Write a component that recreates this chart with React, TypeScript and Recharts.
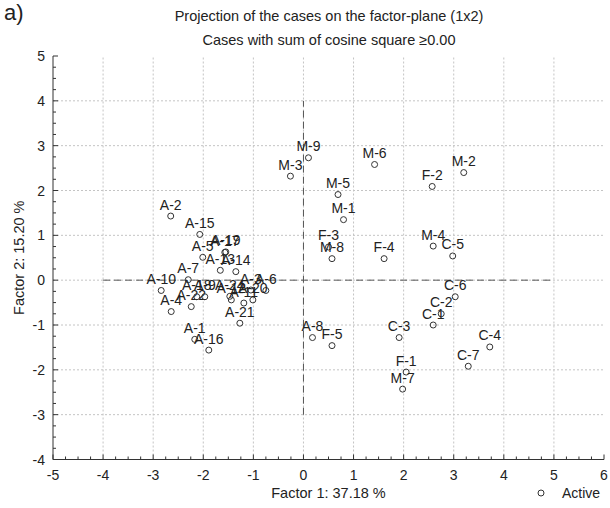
import { ScatterChart, Scatter, XAxis, YAxis, ReferenceLine } from "recharts";

// case labels and their coordinates on factor 1 / factor 2
const caseNames = [
  "M-9", "M-3", "M-6", "M-2", "F-2", "M-5", "M-1", "F-3", "M-8", "M-4", "C-5", "F-4",
  "C-6", "C-2", "C-1", "A-8", "F-5", "C-3", "F-1", "M-7", "C-4", "C-7",
  "A-2", "A-15", "A-5", "A-17", "A-19", "A-13", "A-14", "A-7", "A-10", "A-4", "A-22",
  "A-18", "A-9", "A-3", "A-6", "A-20", "A-24", "A-11", "A-12", "A-21", "A-1", "A-16",
];
const factor1 = [
  0.1, -0.26, 1.42, 3.2, 2.57, 0.69, 0.8, 0.5, 0.57, 2.59, 2.98, 1.61,
  3.03, 2.75, 2.59, 0.18, 0.57, 1.91, 2.05, 1.98, 3.72, 3.29,
  -2.65, -2.07, -2.01, -1.57, -1.55, -1.66, -1.35, -2.3, -2.84, -2.64, -2.24,
  -2.13, -1.97, -1.05, -0.75, -1.01, -1.47, -1.19, -1.44, -1.27, -2.17, -1.89,
];
const factor2 = [
  2.73, 2.32, 2.58, 2.4, 2.09, 1.91, 1.35, 0.74, 0.48, 0.76, 0.54, 0.48,
  -0.37, -0.75, -1.0, -1.28, -1.46, -1.28, -2.05, -2.43, -1.49, -1.92,
  1.43, 1.02, 0.51, 0.62, 0.63, 0.22, 0.19, 0.01, -0.23, -0.7, -0.59,
  -0.37, -0.37, -0.22, -0.23, -0.44, -0.36, -0.51, -0.44, -0.96, -1.32, -1.56,
];

const xTicks = [-5, -4, -3, -2, -1, 0, 1, 2, 3, 4, 5, 6];
const yTicks = [-4, -3, -2, -1, 0, 1, 2, 3, 4, 5];

const data = caseNames.map((name, i) => ({ name, x: factor1[i], y: factor2[i] }));

// quarter-step minor ticks on the frame
const quarters = (ticks: number[]) =>
  ticks.flatMap((t, i) => (i < ticks.length - 1 ? [t, t + 0.25, t + 0.5, t + 0.75] : [t]));
const xMinor = quarters(xTicks);
const yMinor = quarters(yTicks);

const isMajor = (v: number) => Math.abs(v - Math.round(v)) < 1e-6;
const FRAME = "#333";

function BottomTick({ x, y, payload }: any) {
  const v = payload.value;
  const len = isMajor(v) ? 5 : 3;
  return (
    <g>
      <line x1={x} y1={y} x2={x} y2={y - len} stroke={FRAME} />
      {isMajor(v) && (
        <text x={x} y={y + 20.5} textAnchor="middle" fontSize={14} fill="#222">
          {v}
        </text>
      )}
    </g>
  );
}

function TopTick({ x, y, payload }: any) {
  const len = isMajor(payload.value) ? 5 : 3;
  return <line x1={x} y1={y} x2={x} y2={y + len} stroke={FRAME} />;
}

function LeftTick({ x, y, payload }: any) {
  const v = payload.value;
  const len = isMajor(v) ? 5 : 3;
  return (
    <g>
      <line x1={x} y1={y} x2={x + len} y2={y} stroke={FRAME} />
      {isMajor(v) && (
        <text x={x - 8} y={y + 5} textAnchor="end" fontSize={14} fill="#222">
          {v}
        </text>
      )}
    </g>
  );
}

function RightTick({ x, y, payload }: any) {
  const len = isMajor(payload.value) ? 5 : 3;
  return <line x1={x} y1={y} x2={x - len} y2={y} stroke={FRAME} />;
}

function CasePoint({ cx, cy, payload }: any) {
  return (
    <g>
      <text x={cx} y={cy - 6.5} textAnchor="middle" fontSize={14} fill="#222">
        {payload.name}
      </text>
      <circle cx={cx} cy={cy} r={3} fill="none" stroke="#333" strokeWidth={1} />
    </g>
  );
}

const FONT = "'Liberation Sans', Arial, sans-serif";

export default function App() {
  return (
    <div
      style={{
        position: "absolute",
        left: 0,
        top: 0,
        width: 610,
        height: 508,
        fontFamily: FONT,
        color: "#222",
        background: "#fff",
      }}
    >
      <div style={{ position: "absolute", left: 4, top: 1, fontSize: 22, lineHeight: "24px", fontWeight: 300 }}>
        a)
      </div>
      <div
        style={{
          position: "absolute",
          left: 79,
          width: 500,
          top: 7,
          fontSize: 14.5,
          lineHeight: "18px",
          textAlign: "center",
        }}
      >
        Projection of the cases on the factor-plane (1x2)
      </div>
      <div
        style={{
          position: "absolute",
          left: 79,
          width: 500,
          top: 31,
          fontSize: 14.5,
          lineHeight: "18px",
          textAlign: "center",
        }}
      >
        Cases with sum of cosine square ≥0.00
      </div>

      <ScatterChart width={610} height={508} margin={{ top: 56, right: 6, bottom: 8.5, left: 13 }}>
        <XAxis
          type="number"
          dataKey="x"
          domain={[-5, 6]}
          ticks={xMinor}
          interval={0}
          allowDataOverflow
          tickSize={0}
          tickMargin={0}
          tickLine={false}
          axisLine={{ stroke: FRAME }}
          height={40}
          tick={BottomTick}
          label={{ value: "Factor 1: 37.18 %", position: "insideBottom", offset: 2, fontSize: 14.5, fill: "#222" }}
        />
        <XAxis
          xAxisId="top"
          orientation="top"
          type="number"
          domain={[-5, 6]}
          ticks={xMinor}
          interval={0}
          allowDataOverflow
          tickSize={0}
          tickMargin={0}
          tickLine={false}
          axisLine={{ stroke: FRAME }}
          height={0}
          tick={TopTick}
        />
        <YAxis
          type="number"
          dataKey="y"
          domain={[-4, 5]}
          ticks={yMinor}
          interval={0}
          allowDataOverflow
          tickSize={0}
          tickMargin={0}
          tickLine={false}
          axisLine={{ stroke: FRAME }}
          width={40}
          tick={LeftTick}
          label={{
            value: "Factor 2: 15.20 %",
            angle: -90,
            position: "insideLeft",
            offset: 6,
            fontSize: 14.5,
            fill: "#222",
            style: { textAnchor: "middle" },
          }}
        />
        <YAxis
          yAxisId="right"
          orientation="right"
          type="number"
          domain={[-4, 5]}
          ticks={yMinor}
          interval={0}
          allowDataOverflow
          tickSize={0}
          tickMargin={0}
          tickLine={false}
          axisLine={{ stroke: FRAME }}
          width={0}
          tick={RightTick}
        />

        {xTicks.slice(1, -1).map((v) => (
          <ReferenceLine key={"gx" + v} x={v} stroke="#c4c4c4" strokeDasharray="2 2" />
        ))}
        {yTicks.slice(1, -1).map((v) => (
          <ReferenceLine key={"gy" + v} y={v} stroke="#c4c4c4" strokeDasharray="2 2" />
        ))}
        <ReferenceLine
          segment={[{ x: -4, y: 0 }, { x: 5, y: 0 }]}
          stroke="#555"
          strokeDasharray="7 4"
        />
        <ReferenceLine
          segment={[{ x: 0, y: -3 }, { x: 0, y: 4 }]}
          stroke="#555"
          strokeDasharray="7 4"
        />

        <Scatter data={data} shape={CasePoint} isAnimationActive={false} />
      </ScatterChart>

      <svg style={{ position: "absolute", left: 536, top: 488 }} width={10} height={10}>
        <circle cx={5} cy={5} r={3} fill="none" stroke="#333" />
      </svg>
      <div style={{ position: "absolute", left: 562, top: 484, fontSize: 14, lineHeight: "18px" }}>Active</div>
    </div>
  );
}
